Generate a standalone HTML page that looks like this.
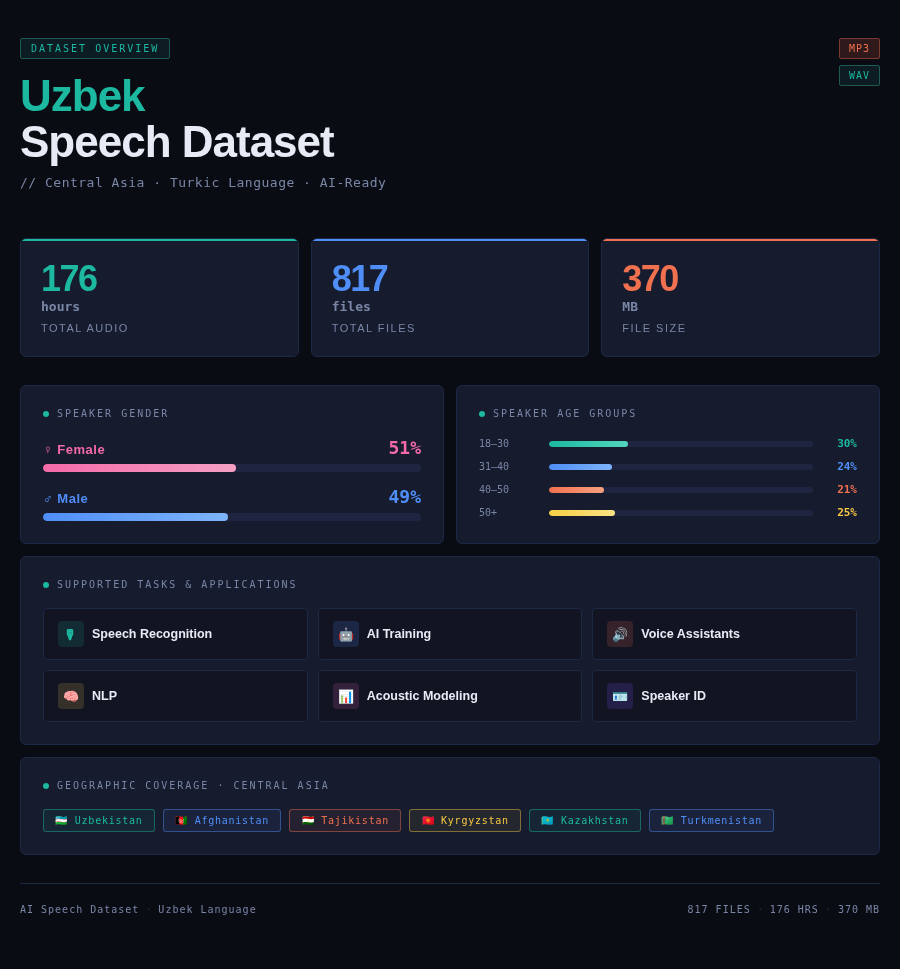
<!DOCTYPE html>
<html lang="en">
<head>
<meta charset="utf-8">
<title>Uzbek Speech Dataset</title>
<style>
*{box-sizing:border-box;margin:0;padding:0}
html,body{background:#0a0c14}
body{width:900px;height:969px;overflow:hidden;color:#e8eaf6;font-family:"Liberation Sans",sans-serif;}
.mono{font-family:"DejaVu Sans Mono","Liberation Mono",monospace}
.wrap{position:relative;width:900px;padding:38px 20px 0 20px}
.badge{display:inline-block;font-family:"DejaVu Sans Mono","Liberation Mono",monospace;font-size:10px;letter-spacing:2px;color:#1cb8a0;border:1px solid #1d5a52;background:#0c1c22;padding:4px 10px;border-radius:2px;line-height:11px;height:21px}
h1{font-size:44px;line-height:46px;font-weight:700;letter-spacing:-1px;margin-top:14px;color:#e8eaf6}
h1 .t{color:#1cb8a0;display:block}
.sub{font-family:"DejaVu Sans Mono","Liberation Mono",monospace;font-size:13px;letter-spacing:.5px;color:#7a86a6;margin-top:10px;line-height:16px}
.fmt{position:absolute;right:0;top:0;display:flex;flex-direction:column;gap:6px;align-items:flex-end}
.fmt span{display:block;font-family:"DejaVu Sans Mono","Liberation Mono",monospace;font-size:10px;letter-spacing:1px;padding:4px 9px;height:21px;line-height:11px;border-radius:2px}
.mp3{color:#f0714f;border:1px solid #7a3a30;background:#30191b}
.wav{color:#1cb8a0;border:1px solid #1d5a52;background:#0c1c22}
.stats{display:grid;grid-template-columns:repeat(3,1fr);gap:12px;margin-top:47px}
.stat{height:119px;background:#161b2e;border:1px solid #1d2844;border-radius:6px;padding:20px 20px;position:relative;overflow:hidden}
.stat:before{content:"";position:absolute;left:0;right:0;top:0;height:2px}
.s1:before{background:#1cb8a0}.s2:before{background:#4f8ef7}.s3:before{background:#f0714f}
.num{font-size:36px;font-weight:700;line-height:40px;letter-spacing:-1.5px;height:36px}
.s1 .num{color:#1cb8a0}.s2 .num{color:#4f8ef7}.s3 .num{color:#f0714f}
.unit{font-family:"DejaVu Sans Mono","Liberation Mono",monospace;font-weight:700;font-size:13px;color:#7a86a6;margin-top:4px;line-height:16px}
.lbl{font-size:11px;letter-spacing:1.5px;color:#7a86a6;margin-top:6px;line-height:14px}
.two{display:grid;grid-template-columns:1fr 1fr;gap:12px;margin-top:28px}
.card{background:#161b2e;border:1px solid #1d2844;border-radius:6px;padding:22px}
.ct{font-family:"DejaVu Sans Mono","Liberation Mono",monospace;font-size:10px;letter-spacing:2px;color:#7a86a6;line-height:12px;display:flex;align-items:center}
.ct:before{content:"";width:6px;height:6px;border-radius:50%;background:#1cb8a0;margin-right:8px;display:inline-block}
.g{margin-top:14px}
.g.f{margin-top:17px}
.gh{display:flex;justify-content:space-between;align-items:baseline;height:21px}
.gn{font-size:13px;font-weight:700;letter-spacing:.5px}
.gp{font-family:"DejaVu Sans Mono","Liberation Mono",monospace;font-weight:700;font-size:18px;line-height:21px}
.track{height:8px;border-radius:4px;background:#1f2540;margin-top:6px;overflow:hidden}
.fill{height:100%;border-radius:4px}
.age{display:flex;align-items:center;height:14px;margin-bottom:9px}
.age:last-child{margin-bottom:0}
.age .a{font-family:"DejaVu Sans Mono","Liberation Mono",monospace;font-size:10px;color:#7a86a6;width:70px}
.age .tr{flex:1;height:6px;border-radius:3px;background:#1f2540;overflow:hidden}
.age .p{font-family:"DejaVu Sans Mono","Liberation Mono",monospace;font-size:11px;font-weight:700;width:44px;text-align:right}
.tasks{display:grid;grid-template-columns:repeat(3,1fr);gap:10px;margin-top:17px}
.task{height:52px;background:#121422;border:1px solid #1d2844;border-radius:4px;display:flex;align-items:center;padding:0 14px}
.ic{width:26px;height:26px;border-radius:4px;display:flex;align-items:center;justify-content:center;font-size:13px;margin-right:8px;overflow:hidden}
.tn{font-size:12.5px;font-weight:700;color:#e8eaf6}
.tags{display:flex;gap:8px;margin-top:17px}
.tag{font-family:"DejaVu Sans Mono","Liberation Mono",monospace;font-size:10px;letter-spacing:.75px;height:23px;line-height:21px;padding:0 11.31px;border-radius:3px;border:1px solid;white-space:nowrap}
.fl{display:inline-block;width:12px;letter-spacing:0;margin-right:.75px;white-space:nowrap}
.foot{margin-top:28px;border-top:1px solid #1d2844;padding-top:20px;display:flex;justify-content:space-between;font-family:"DejaVu Sans Mono","Liberation Mono",monospace;font-size:10px;letter-spacing:1px;color:#7a86a6;line-height:12px}
.hdr,.stats,.foot{will-change:transform}
.hdr{position:relative}
.foot i{font-style:normal;color:#2a2f4a;display:inline-block;width:19px;text-align:center;letter-spacing:0}
</style>
</head>
<body>
<div class="wrap">
  <div class="hdr">
  <div class="badge">DATASET OVERVIEW</div>
  <div class="fmt"><span class="mp3">MP3</span><span class="wav">WAV</span></div>
  <h1><span class="t">Uzbek</span>Speech Dataset</h1>
  <div class="sub">// Central Asia · Turkic Language · AI-Ready</div>
  </div>

  <div class="stats">
    <div class="stat s1"><div class="num">176</div><div class="unit">hours</div><div class="lbl">TOTAL AUDIO</div></div>
    <div class="stat s2"><div class="num">817</div><div class="unit">files</div><div class="lbl">TOTAL FILES</div></div>
    <div class="stat s3"><div class="num">370</div><div class="unit">MB</div><div class="lbl">FILE SIZE</div></div>
  </div>

  <div class="two">
    <div class="card">
      <div class="ct">SPEAKER GENDER</div>
      <div class="g f">
        <div class="gh"><span class="gn" style="color:#f46aa8">♀ Female</span><span class="gp" style="color:#f46aa8">51%</span></div>
        <div class="track"><div class="fill" style="width:51%;background:linear-gradient(90deg,#f46aa8,#f5a0c5)"></div></div>
      </div>
      <div class="g">
        <div class="gh"><span class="gn" style="color:#4f8ef7">♂ Male</span><span class="gp" style="color:#4f8ef7">49%</span></div>
        <div class="track"><div class="fill" style="width:49%;background:linear-gradient(90deg,#4f8ef7,#7db4fa)"></div></div>
      </div>
    </div>
    <div class="card">
      <div class="ct">SPEAKER AGE GROUPS</div>
      <div style="margin-top:16.5px">
      <div class="age"><span class="a">18–30</span><div class="tr"><div class="fill" style="width:30%;background:linear-gradient(90deg,#1cb8a0,#52d6c0)"></div></div><span class="p" style="color:#1cb8a0">30%</span></div>
      <div class="age"><span class="a">31–40</span><div class="tr"><div class="fill" style="width:24%;background:linear-gradient(90deg,#4f8ef7,#7db4fa)"></div></div><span class="p" style="color:#4f8ef7">24%</span></div>
      <div class="age"><span class="a">40–50</span><div class="tr"><div class="fill" style="width:21%;background:linear-gradient(90deg,#f0714f,#f5a080)"></div></div><span class="p" style="color:#f0714f">21%</span></div>
      <div class="age"><span class="a">50+</span><div class="tr"><div class="fill" style="width:25%;background:linear-gradient(90deg,#f7cf45,#fae385)"></div></div><span class="p" style="color:#f5c842">25%</span></div>
      </div>
    </div>
  </div>

  <div class="card" style="margin-top:12px">
    <div class="ct">SUPPORTED TASKS &amp; APPLICATIONS</div>
    <div class="tasks">
      <div class="task"><span class="ic" style="background:#132b33"><svg width="26" height="26" viewBox="0 0 26 26"><rect x="8.8" y="8" width="6.4" height="6.9" rx="1.4" fill="#1cb8a0"/><path d="M9.5 14.5h5l-1.5 4.7h-2z" fill="#1cb8a0"/><rect x="10.2" y="9.3" width="3.6" height="4.4" fill="#18a08c"/><path d="M10.6 10.4h2.8M10.6 12.9h2.8" stroke="#2cccb4" stroke-width=".8" fill="none"/></svg></span><span class="tn">Speech Recognition</span></div>
      <div class="task"><span class="ic" style="background:#1b2745">🤖</span><span class="tn">AI Training</span></div>
      <div class="task"><span class="ic" style="background:#35222a">🔊</span><span class="tn">Voice Assistants</span></div>
      <div class="task"><span class="ic" style="background:#35302a">🧠</span><span class="tn">NLP</span></div>
      <div class="task"><span class="ic" style="background:#33203a">📊</span><span class="tn">Acoustic Modeling</span></div>
      <div class="task"><span class="ic" style="background:#241f48">🪪</span><span class="tn">Speaker ID</span></div>
    </div>
  </div>

  <div class="card" style="margin-top:12px">
    <div class="ct">GEOGRAPHIC COVERAGE · CENTRAL ASIA</div>
    <div class="tags">
      <span class="tag" style="color:#1cb8a0;border-color:rgba(28,184,160,.45);background:rgba(28,184,160,.07)"><span class="fl">🇺🇿</span> Uzbekistan</span>
      <span class="tag" style="color:#4f8ef7;border-color:rgba(79,142,247,.45);background:rgba(79,142,247,.07)"><span class="fl">🇦🇫</span> Afghanistan</span>
      <span class="tag" style="color:#f0714f;border-color:rgba(240,113,79,.45);background:rgba(240,113,79,.07)"><span class="fl">🇹🇯</span> Tajikistan</span>
      <span class="tag" style="color:#f5c842;border-color:rgba(245,200,66,.45);background:rgba(245,200,66,.07)"><span class="fl">🇰🇬</span> Kyrgyzstan</span>
      <span class="tag" style="color:#1cb8a0;border-color:rgba(28,184,160,.45);background:rgba(28,184,160,.07)"><span class="fl">🇰🇿</span> Kazakhstan</span>
      <span class="tag" style="color:#4f8ef7;border-color:rgba(79,142,247,.45);background:rgba(79,142,247,.07)"><span class="fl">🇹🇲</span> Turkmenistan</span>
    </div>
  </div>

  <div class="foot"><span>AI Speech Dataset<i>·</i>Uzbek Language</span><span>817 FILES<i>·</i>176 HRS<i>·</i>370 MB</span></div>
</div>
</body>
</html>
